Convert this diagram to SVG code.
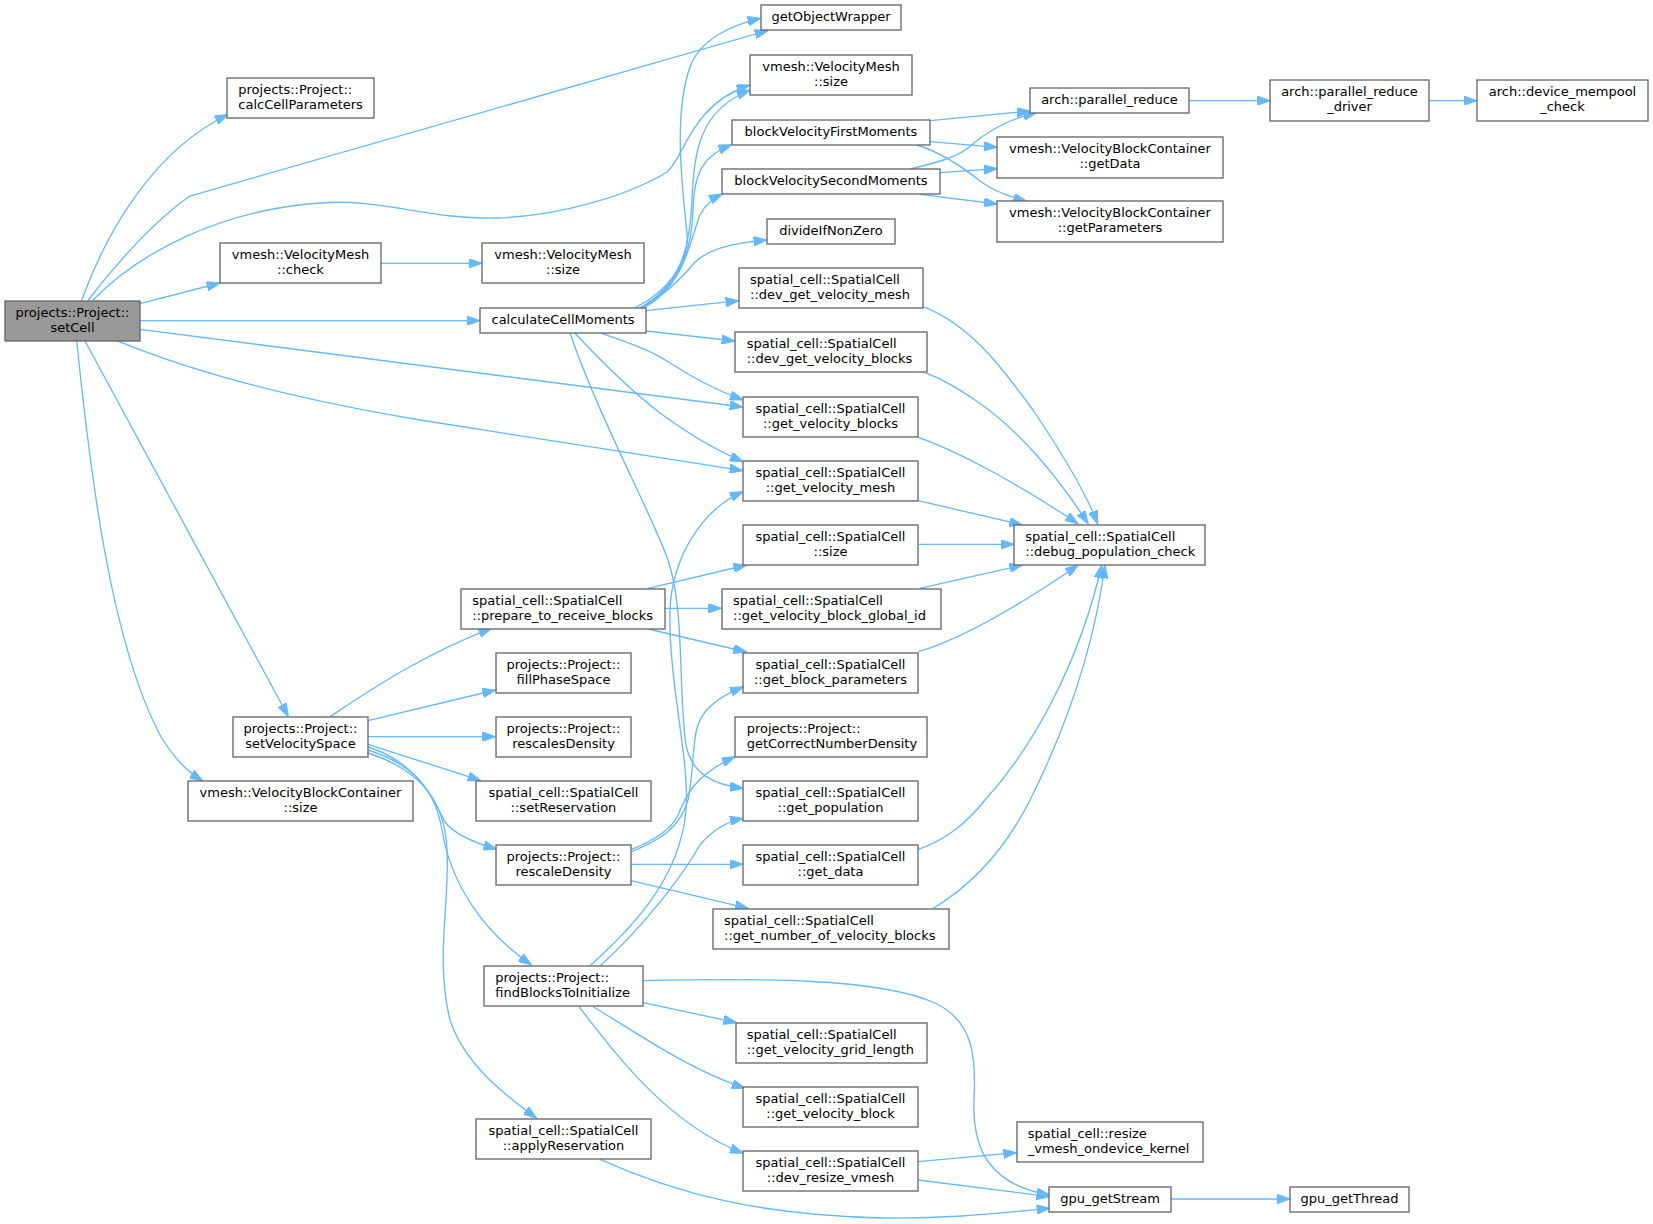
<svg xmlns="http://www.w3.org/2000/svg" width="1653" height="1224" viewBox="0 0 1653 1224">
<style>
.node rect{fill:#ffffff;stroke:#666666;stroke-width:1.33}
.node rect.hl{fill:#999999}
.node text{font-family:"DejaVu Sans","Liberation Sans",sans-serif;font-size:13px;fill:#000000}
.c{text-anchor:middle}
.l{text-anchor:start}
.edges path{fill:none;stroke:#63b8ff;stroke-width:1.33;marker-end:url(#arr)}
</style>
<defs>
<marker id="arr" markerUnits="userSpaceOnUse" viewBox="0 0 13.3 9.4" refX="13.3" refY="4.7" markerWidth="13.3" markerHeight="9.4" orient="auto">
<path d="M0,0 L13.3,4.7 L0,9.4 z" fill="#63b8ff" stroke="#63b8ff" stroke-width="1"/>
</marker>
</defs>
<rect width="1653" height="1224" fill="#ffffff"/>
<g id="edges" class="edges">
<path d="M81.7,300 C108,228 155,150 228,114.5"/>
<path d="M88.3,300 C115,265 155,220 190,196 L768,30.5"/>
<path d="M93,300 C140,252 220,210 320,203 C380,198 430,220 497,218 C560,216 630,195 667,172 C685,157 690,105 750,85"/>
<path d="M140,303.7 L220,283"/>
<path d="M140,320.7 L480,320.7"/>
<path d="M140,329.3 L743,407"/>
<path d="M116.7,340.7 C200,375 300,400 420,420 L743,470.7"/>
<path d="M85,341 L288.3,716.5"/>
<path d="M76.7,341 C90,470 110,640 160,735 C175,760 188,772 203,781"/>
<path d="M381,263.3 L482,263.3"/>
<path d="M635,308 C670,290 690,260 687,233 C680,170 675,110 690,67 C700,40 730,25 761,18.3"/>
<path d="M640,308 C680,285 690,250 692,200 C694,150 700,110 750,90"/>
<path d="M642,308 C680,285 692,250 693,210 C694,170 705,155 731.7,144.7"/>
<path d="M644,308 C685,285 690,240 700,215 C705,205 712,199 722.3,194"/>
<path d="M640,308 C665,295 680,280 695,262 C710,248 735,243 767,240"/>
<path d="M646,310.7 L739,300.7"/>
<path d="M646,331 L735,341"/>
<path d="M601.7,333.3 C630,343 650,350 670,363 C690,376 715,390 743.3,400"/>
<path d="M575,333.3 C600,360 630,390 660,413 C690,435 715,450 743.3,461.7"/>
<path d="M570,333.3 C600,420 650,510 668,560 C685,610 678,690 686,745 C692,775 715,785 743.3,788.3"/>
<path d="M930.3,120.7 L1030.3,111"/>
<path d="M930.3,141.7 L997.3,147.3"/>
<path d="M916.7,145 C940,152 960,165 980,181 C992,190 1010,197 1026.7,201.3"/>
<path d="M910,169 C935,163 955,158 968,148 C985,133 1005,120 1036.7,112.7"/>
<path d="M940,172.7 L997.3,168.7"/>
<path d="M920,194.3 L997.3,204"/>
<path d="M1189.3,100.7 L1270.3,100.7"/>
<path d="M1429.3,100.7 L1477,100.7"/>
<path d="M923.3,306.7 C970,325 1000,365 1033,410 C1060,450 1085,490 1097.7,524"/>
<path d="M925,372.7 C945,380 960,390 975,400 C1020,430 1060,480 1088.3,524"/>
<path d="M918.3,437.3 C960,452 1020,485 1078.3,524"/>
<path d="M918.3,500.7 L1022.7,525"/>
<path d="M918.3,544.3 L1014.3,544.3"/>
<path d="M920,588.3 L1022.7,565"/>
<path d="M918.3,651.7 C960,640 1020,605 1078.3,565"/>
<path d="M918.3,849.3 C945,840 965,825 985,800 C1035,745 1080,660 1101.7,565"/>
<path d="M933.3,908.3 C980,880 1010,840 1030,800 C1070,720 1095,640 1105,565"/>
<path d="M648.3,588.3 L746.7,565"/>
<path d="M665.3,608.3 L721.7,608.3"/>
<path d="M648.3,629 L746.7,652"/>
<path d="M330,716.7 C360,697 420,655 491.7,628.3"/>
<path d="M368,720.7 L495.7,690"/>
<path d="M368,736.7 L495.7,736.7"/>
<path d="M368,744.3 L481,780.7"/>
<path d="M368,747 C410,760 430,790 445,822 C455,835 475,843 496.7,849.3"/>
<path d="M368,750 C415,765 435,790 442,830 C450,880 480,930 531.7,965"/>
<path d="M368,753 C420,770 445,800 447,850 C450,900 435,960 450,1020 C465,1065 505,1095 536.7,1118.3"/>
<path d="M631.7,851.7 C660,840 680,828 688,800 C696,760 690,730 705,712 C715,700 728,693 743.3,686.7"/>
<path d="M631.7,849.3 C655,840 672,828 678,815 C686,795 695,775 735,756.7"/>
<path d="M631,864.3 L743,864.3"/>
<path d="M631,880.7 L748.3,908.3"/>
<path d="M590,965.7 C630,930 680,880 686,810 C690,760 668,680 670,610 C672,560 700,510 743.3,491.7"/>
<path d="M600,966 C640,930 680,880 700,845 C712,830 725,822 743.3,818.3"/>
<path d="M642.7,980.7 C760,978 880,978 935,1003 C975,1022 976,1060 974,1100 C972,1150 990,1185 1050,1195"/>
<path d="M643.3,1002.7 L736.7,1022.7"/>
<path d="M593.3,1006.7 C640,1035 690,1070 745,1088.3"/>
<path d="M579,1006.7 C620,1060 670,1125 743.3,1153.3"/>
<path d="M600,1159.3 C680,1195 760,1215 883,1218 C950,1219 1000,1213 1050,1208.3"/>
<path d="M918.3,1161.7 L1016.7,1152.7"/>
<path d="M918.3,1180 L1050,1196.7"/>
<path d="M1170.7,1199 L1290.3,1199"/>
</g>
<g id="n_setCell" class="node"><rect class="hl" x="5" y="301" width="135" height="40"/><text class="c" x="72.5" y="317.3">projects::Project::</text><text class="c" x="72.5" y="332">setCell</text></g>
<g id="n_calcCellParameters" class="node"><rect x="227" y="78" width="147" height="40"/><text class="l" x="238.3" y="94.3">projects::Project::</text><text class="l" x="238.3" y="109">calcCellParameters</text></g>
<g id="n_getObjectWrapper" class="node"><rect x="761" y="5" width="140" height="25"/><text class="c" x="831" y="21">getObjectWrapper</text></g>
<g id="n_vmsize_top" class="node"><rect x="750" y="55" width="162" height="40"/><text class="c" x="831" y="71.3">vmesh::VelocityMesh</text><text class="c" x="831" y="86">::size</text></g>
<g id="n_bvfm" class="node"><rect x="732" y="120" width="198" height="25"/><text class="c" x="831" y="136">blockVelocityFirstMoments</text></g>
<g id="n_bvsm" class="node"><rect x="722" y="169" width="218" height="25"/><text class="c" x="831" y="185">blockVelocitySecondMoments</text></g>
<g id="n_divideIfNonZero" class="node"><rect x="767" y="219" width="128" height="25"/><text class="c" x="831" y="235">divideIfNonZero</text></g>
<g id="n_dev_get_velocity_mesh" class="node"><rect x="739" y="268" width="184" height="40"/><text class="l" x="750" y="284.3">spatial_cell::SpatialCell</text><text class="l" x="750" y="299">::dev_get_velocity_mesh</text></g>
<g id="n_dev_get_velocity_blocks" class="node"><rect x="735" y="332" width="192" height="40"/><text class="l" x="746.7" y="348.3">spatial_cell::SpatialCell</text><text class="l" x="746.7" y="363">::dev_get_velocity_blocks</text></g>
<g id="n_get_velocity_blocks" class="node"><rect x="743" y="397" width="175" height="40"/><text class="c" x="830.5" y="413.3">spatial_cell::SpatialCell</text><text class="c" x="830.5" y="428">::get_velocity_blocks</text></g>
<g id="n_get_velocity_mesh" class="node"><rect x="743" y="461" width="175" height="40"/><text class="c" x="830.5" y="477.3">spatial_cell::SpatialCell</text><text class="c" x="830.5" y="492">::get_velocity_mesh</text></g>
<g id="n_sc_size" class="node"><rect x="743" y="525" width="175" height="40"/><text class="c" x="830.5" y="541.3">spatial_cell::SpatialCell</text><text class="c" x="830.5" y="556">::size</text></g>
<g id="n_get_velocity_block_global_id" class="node"><rect x="722" y="589" width="219" height="40"/><text class="l" x="733" y="605.3">spatial_cell::SpatialCell</text><text class="l" x="733" y="620">::get_velocity_block_global_id</text></g>
<g id="n_get_block_parameters" class="node"><rect x="743" y="653" width="175" height="40"/><text class="c" x="830.5" y="669.3">spatial_cell::SpatialCell</text><text class="c" x="830.5" y="684">::get_block_parameters</text></g>
<g id="n_getCorrectNumberDensity" class="node"><rect x="735" y="717" width="192" height="40"/><text class="l" x="746.7" y="733.3">projects::Project::</text><text class="l" x="746.7" y="748">getCorrectNumberDensity</text></g>
<g id="n_get_population" class="node"><rect x="743" y="781" width="175" height="40"/><text class="c" x="830.5" y="797.3">spatial_cell::SpatialCell</text><text class="c" x="830.5" y="812">::get_population</text></g>
<g id="n_get_data" class="node"><rect x="743" y="845" width="175" height="40"/><text class="c" x="830.5" y="861.3">spatial_cell::SpatialCell</text><text class="c" x="830.5" y="876">::get_data</text></g>
<g id="n_get_number_of_velocity_blocks" class="node"><rect x="713" y="909" width="236" height="40"/><text class="l" x="724" y="925.3">spatial_cell::SpatialCell</text><text class="l" x="724" y="940">::get_number_of_velocity_blocks</text></g>
<g id="n_get_velocity_grid_length" class="node"><rect x="736" y="1023" width="191" height="40"/><text class="l" x="746.7" y="1039.3">spatial_cell::SpatialCell</text><text class="l" x="746.7" y="1054">::get_velocity_grid_length</text></g>
<g id="n_get_velocity_block" class="node"><rect x="743" y="1087" width="175" height="40"/><text class="c" x="830.5" y="1103.3">spatial_cell::SpatialCell</text><text class="c" x="830.5" y="1118">::get_velocity_block</text></g>
<g id="n_dev_resize_vmesh" class="node"><rect x="743" y="1151" width="175" height="40"/><text class="c" x="830.5" y="1167.3">spatial_cell::SpatialCell</text><text class="c" x="830.5" y="1182">::dev_resize_vmesh</text></g>
<g id="n_vmcheck" class="node"><rect x="220" y="243" width="161" height="40"/><text class="c" x="300.5" y="259.3">vmesh::VelocityMesh</text><text class="c" x="300.5" y="274">::check</text></g>
<g id="n_vmsize_mid" class="node"><rect x="482" y="243" width="162" height="40"/><text class="c" x="563" y="259.3">vmesh::VelocityMesh</text><text class="c" x="563" y="274">::size</text></g>
<g id="n_calculateCellMoments" class="node"><rect x="480" y="308" width="166" height="25"/><text class="c" x="563" y="324">calculateCellMoments</text></g>
<g id="n_prepare_to_receive_blocks" class="node"><rect x="461" y="589" width="204" height="40"/><text class="l" x="472.3" y="605.3">spatial_cell::SpatialCell</text><text class="l" x="472.3" y="620">::prepare_to_receive_blocks</text></g>
<g id="n_fillPhaseSpace" class="node"><rect x="496" y="653" width="135" height="40"/><text class="c" x="563.5" y="669.3">projects::Project::</text><text class="c" x="563.5" y="684">fillPhaseSpace</text></g>
<g id="n_rescalesDensity" class="node"><rect x="496" y="717" width="135" height="40"/><text class="c" x="563.5" y="733.3">projects::Project::</text><text class="c" x="563.5" y="748">rescalesDensity</text></g>
<g id="n_setReservation" class="node"><rect x="476" y="781" width="175" height="40"/><text class="c" x="563.5" y="797.3">spatial_cell::SpatialCell</text><text class="c" x="563.5" y="812">::setReservation</text></g>
<g id="n_rescaleDensity" class="node"><rect x="496" y="845" width="135" height="40"/><text class="c" x="563.5" y="861.3">projects::Project::</text><text class="c" x="563.5" y="876">rescaleDensity</text></g>
<g id="n_findBlocksToInitialize" class="node"><rect x="484" y="966" width="159" height="40"/><text class="l" x="495.3" y="982.3">projects::Project::</text><text class="l" x="495.3" y="997">findBlocksToInitialize</text></g>
<g id="n_applyReservation" class="node"><rect x="476" y="1119" width="175" height="40"/><text class="c" x="563.5" y="1135.3">spatial_cell::SpatialCell</text><text class="c" x="563.5" y="1150">::applyReservation</text></g>
<g id="n_setVelocitySpace" class="node"><rect x="233" y="717" width="135" height="40"/><text class="c" x="300.5" y="733.3">projects::Project::</text><text class="c" x="300.5" y="748">setVelocitySpace</text></g>
<g id="n_vbc_size" class="node"><rect x="188" y="781" width="225" height="40"/><text class="c" x="300.5" y="797.3">vmesh::VelocityBlockContainer</text><text class="c" x="300.5" y="812">::size</text></g>
<g id="n_parallel_reduce" class="node"><rect x="1030" y="88" width="159" height="25"/><text class="c" x="1109.5" y="104">arch::parallel_reduce</text></g>
<g id="n_getData" class="node"><rect x="997" y="137" width="226" height="41"/><text class="c" x="1110" y="153.3">vmesh::VelocityBlockContainer</text><text class="c" x="1110" y="168">::getData</text></g>
<g id="n_getParameters" class="node"><rect x="997" y="201" width="226" height="41"/><text class="c" x="1110" y="217.3">vmesh::VelocityBlockContainer</text><text class="c" x="1110" y="232">::getParameters</text></g>
<g id="n_parallel_reduce_driver" class="node"><rect x="1270" y="80" width="159" height="41"/><text class="c" x="1349.5" y="96.3">arch::parallel_reduce</text><text class="c" x="1349.5" y="111">_driver</text></g>
<g id="n_device_mempool_check" class="node"><rect x="1477" y="80" width="171" height="41"/><text class="c" x="1562.5" y="96.3">arch::device_mempool</text><text class="c" x="1562.5" y="111">_check</text></g>
<g id="n_debug_population_check" class="node"><rect x="1014" y="525" width="191" height="40"/><text class="l" x="1025.3" y="541.3">spatial_cell::SpatialCell</text><text class="l" x="1025.3" y="556">::debug_population_check</text></g>
<g id="n_resize_vmesh_ondevice_kernel" class="node"><rect x="1017" y="1122" width="186" height="40"/><text class="l" x="1027.7" y="1138.3">spatial_cell::resize</text><text class="l" x="1027.7" y="1153">_vmesh_ondevice_kernel</text></g>
<g id="n_gpu_getStream" class="node"><rect x="1049" y="1187" width="122" height="25"/><text class="c" x="1110" y="1203">gpu_getStream</text></g>
<g id="n_gpu_getThread" class="node"><rect x="1290" y="1187" width="119" height="25"/><text class="c" x="1349.5" y="1203">gpu_getThread</text></g>
</svg>
